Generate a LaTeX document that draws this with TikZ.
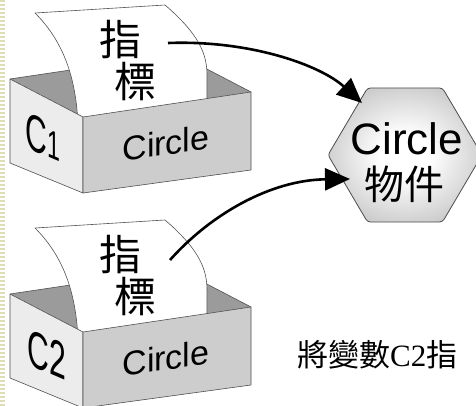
\documentclass[tikz,border=0pt]{standalone}
\usepackage{fontspec}
\setmainfont{Liberation Sans}
\newfontfamily\cjk{Noto Sans CJK TC}
\newfontfamily\serifnum{Liberation Serif}
\usetikzlibrary{arrows.meta}

\definecolor{stripe}{RGB}{221,221,184}
\definecolor{faceL}{RGB}{236,236,236}
\definecolor{faceF}{RGB}{205,205,205}
\definecolor{hollow}{RGB}{155,155,155}
\definecolor{edge}{RGB}{80,80,80}

% soft glow: white core fading to grey at the rim
\pgfdeclareradialshading{hexglow}{\pgfpoint{0bp}{0bp}}{%
  color(0bp)=(white); color(8bp)=(white); color(38bp)=(black!32); color(50bp)=(black!45); color(70bp)=(black!50)}

\tikzset{
  boxline/.style={draw=edge, line width=0.6pt, line join=round},
  pointer/.style={line width=2.6pt, -{Triangle[length=25pt,width=22pt]}},
  sidelabel/.style={inner sep=0pt, font=\fontsize{52}{52}\selectfont, xscale=0.58, yslant=-0.25},
  frontlabel/.style={inner sep=0pt, font=\fontsize{34}{34}\selectfont, yslant=0.15},
  papertext/.style={inner sep=0pt, font=\cjk\fontsize{42}{42}\selectfont},
}

\begin{document}
\begin{tikzpicture}[x=1pt, y=-1pt]
\clip (0,0) rectangle (476,406);
\fill[white] (0,0) rectangle (476,406);

% dotted margin strip on the left
\draw[stripe, line width=5pt, dash pattern=on 2pt off 2pt] (2.5,0) -- (2.5,406);

% two open boxes, each holding a pointer slip
\foreach \dy/\idx in {0/1, 215/2} {
  \begin{scope}[shift={(0,\dy)}]
    % inside of the box
    \fill[hollow] (10,79) -- (178,54) -- (251,92) -- (83,117) -- cycle;
    \draw[boxline] (10,79) -- (178,54) -- (251,92);
    % curled paper slip
    \filldraw[fill=white, boxline] (78,125) .. controls (76,72) and (60,38) .. (35,13)
       -- (165,5) .. controls (200,35) and (207,55) .. (207,75) -- (207,110) -- cycle;
    \node[papertext] (zhi\idx) at (120,40) {指};
    \node[papertext] (biao\idx) at (135,82) {標};
    % left and front faces
    \filldraw[fill=faceL, boxline] (10,79) -- (83,117) -- (83,193) -- (10,163) -- cycle;
    \filldraw[fill=faceF, boxline] (83,117) -- (251,92) -- (251,170) -- (83,193) -- cycle;
    \node[frontlabel] (cls\idx) at (166,143) {Circle};
    \coordinate (src\idx) at (168,43);
  \end{scope}
}
\node[sidelabel] (var1) at (43,137) {C{\fontsize{40}{40}\selectfont 1}};
\node[sidelabel] (var2) at (47,355) {C2};

% the object
\shade[shading=hexglow, draw=black!70, line width=0.8pt, rounded corners=3pt]
  (367.5,88) -- (442.5,88) -- (482,155) -- (442.5,222) -- (367.5,222) -- (328,155) -- cycle;
\node[inner sep=0pt, anchor=base, font=\fontsize{44}{44}\selectfont] (objname) at (407,155) {Circle};
\node[inner sep=0pt, font=\cjk\fontsize{40}{40}\selectfont] (objkind) at (404,184) {物件};
\coordinate (hit1) at (362,103);
\coordinate (hit2) at (350,179);

% pointers from the slips to the object
\draw[pointer] (src1) .. controls (250,40) and (320,65) .. (hit1);
\coordinate (src2b) at (170,260);
\draw[pointer] (src2b) .. controls (210,215) and (270,180) .. (hit2);

% caption
\node[anchor=west, inner sep=0pt, font=\cjk\fontsize{31}{31}\selectfont] (caption) at (297,355)
  {將變數{\serifnum C2}指};
\end{tikzpicture}
\end{document}
